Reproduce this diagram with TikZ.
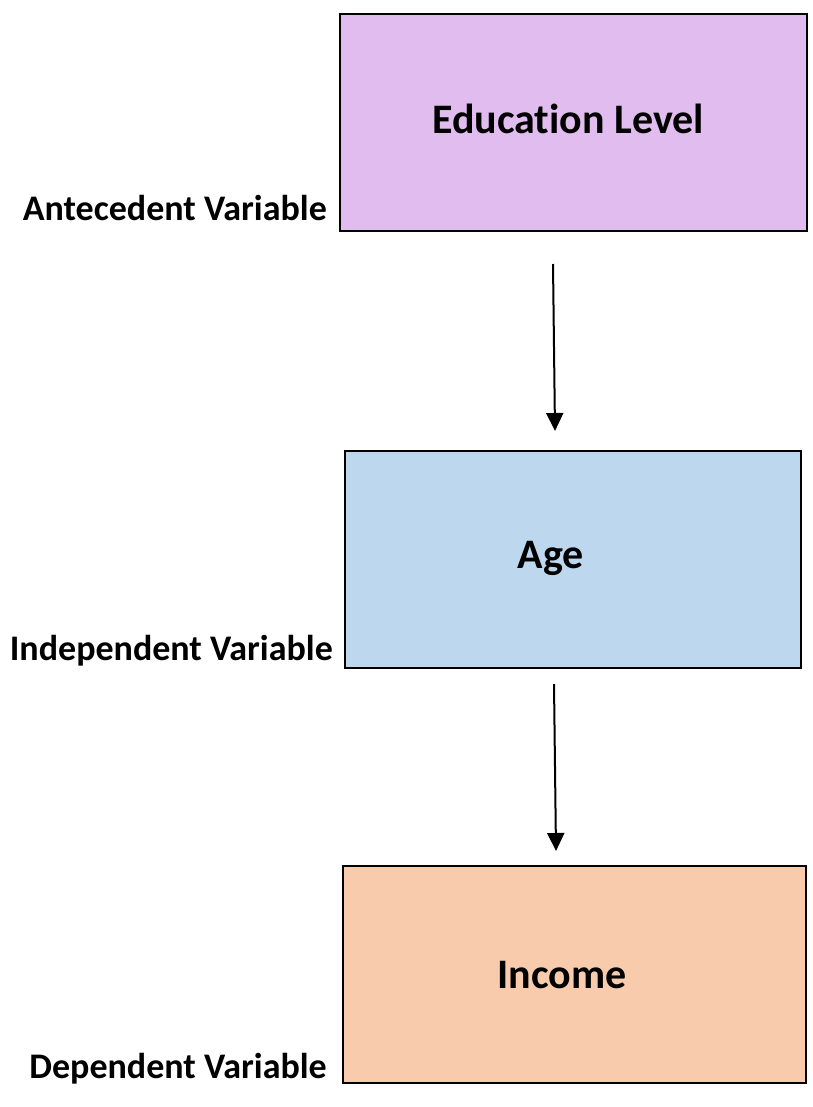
\documentclass[tikz,border=0pt]{standalone}
\usepackage{fontspec}
\setmainfont[Ligatures={NoCommon}]{Carlito}
\usetikzlibrary{arrows.meta}
\definecolor{cpurple}{HTML}{E1BCEE}
\definecolor{cblue}{HTML}{BDD7EE}
\definecolor{cpeach}{HTML}{F8CBAD}
\tikzset{
  varbox/.style={draw=black, line width=2.8pt},
  boxtext/.style={font=\fontsize{42}{46}\selectfont\bfseries, anchor=base, inner sep=0pt},
  lbl/.style={font=\fontsize{36}{40}\selectfont\bfseries, anchor=base east, inner sep=0pt},
  conn/.style={line width=2pt, -{Triangle[length=18pt,width=17pt]}}
}
\begin{document}
\begin{tikzpicture}[x=1pt,y=-1pt]
\useasboundingbox (0,0) rectangle (812,1107);
\fill[white] (0,0) rectangle (812,1107);
\draw[varbox, fill=cpurple] (340,14) rectangle (807,231);
\draw[varbox, fill=cblue] (345,451) rectangle (801,668);
\draw[varbox, fill=cpeach] (343,866) rectangle (806,1083);
\node[boxtext] (edu) at (568,134) {Education Level};
\node[boxtext] (age) at (551,568) {Age};
\node[boxtext] (inc) at (562,988) {Income};
\node[lbl] (l1) at (327,221) {Antecedent Variable};
\node[lbl] (l2) at (333,660) {Independent Variable};
\node[lbl] (l3) at (327,1078) {Dependent Variable};
\coordinate (a1s) at (553,264);
\coordinate (a1e) at (555,431);
\coordinate (a2s) at (554,684);
\coordinate (a2e) at (556,851);
\draw[conn] (a1s) -- (a1e);
\draw[conn] (a2s) -- (a2e);
\end{tikzpicture}
\end{document}
